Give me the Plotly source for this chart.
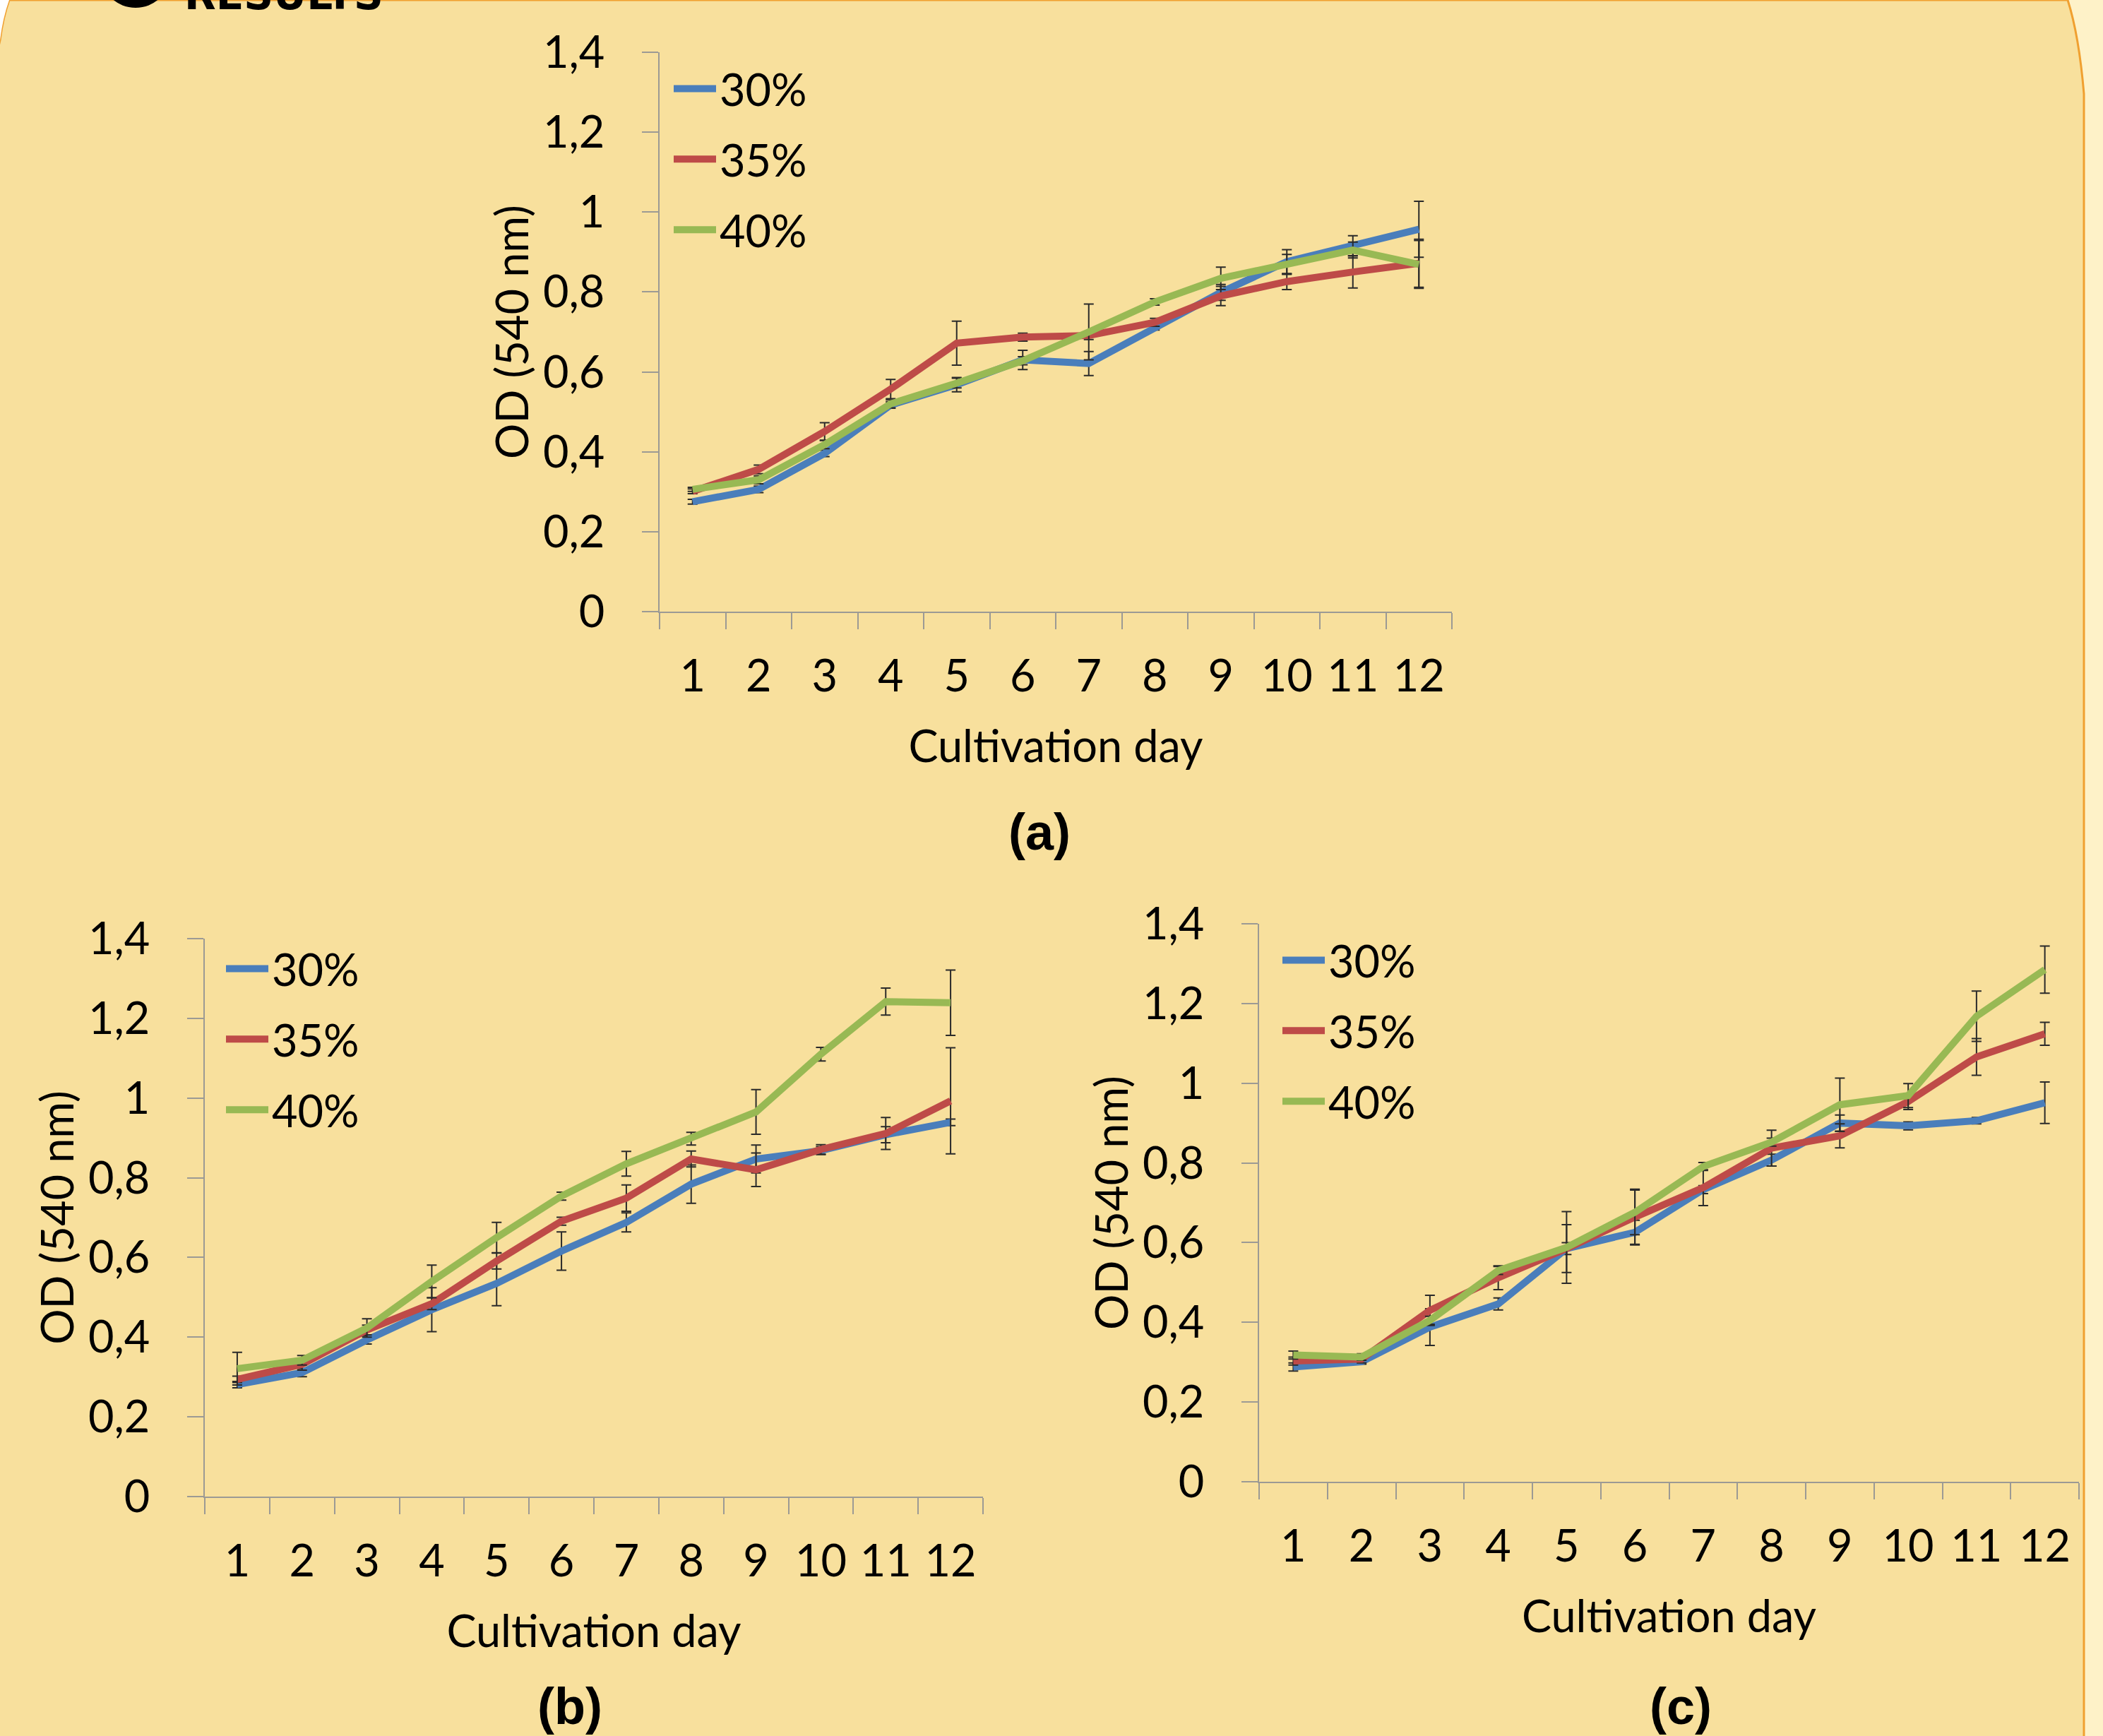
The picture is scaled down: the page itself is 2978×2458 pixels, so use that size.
import plotly.graph_objects as go

W, H = 2978, 2458

days = [str(d) for d in range(1, 13)]
series_names = ["30%", "35%", "40%"]
series_colors = ["#4A7EBB", "#BE4B48", "#98B954"]
y_ticks = [0, 0.2, 0.4, 0.6, 0.8, 1.0, 1.2, 1.4]
y_tick_labels = ["0", "0,2", "0,4", "0,6", "0,8", "1", "1,2", "1,4"]

# Panel (a)
a_30 = [0.275, 0.306, 0.396, 0.517, 0.568, 0.630, 0.621, 0.711, 0.799, 0.876, 0.916, 0.957]
a_35 = [0.301, 0.356, 0.451, 0.557, 0.672, 0.687, 0.691, 0.724, 0.790, 0.826, 0.850, 0.872]
a_40 = [0.306, 0.330, 0.418, 0.520, 0.572, 0.628, 0.700, 0.775, 0.834, 0.869, 0.905, 0.869]
a_30_err = [0.006, 0.008, 0.008, 0.008, 0.018, 0.024, 0.030, 0.006, 0.020, 0.030, 0.025, 0.070]
a_35_err = [0.006, 0.011, 0.022, 0.024, 0.055, 0.010, 0.010, 0.010, 0.024, 0.020, 0.040, 0.060]
a_40_err = [0.005, 0.010, 0.010, 0.010, 0.012, 0.010, 0.070, 0.008, 0.028, 0.025, 0.020, 0.060]

# Panel (b)
b_30 = [0.281, 0.311, 0.393, 0.469, 0.535, 0.616, 0.688, 0.784, 0.847, 0.868, 0.908, 0.939]
b_35 = [0.294, 0.332, 0.418, 0.484, 0.591, 0.691, 0.749, 0.847, 0.820, 0.871, 0.911, 0.993]
b_40 = [0.321, 0.342, 0.423, 0.540, 0.650, 0.754, 0.835, 0.898, 0.965, 1.110, 1.242, 1.239]
b_30_err = [0.008, 0.010, 0.010, 0.055, 0.056, 0.048, 0.024, 0.048, 0.035, 0.010, 0.020, 0.008]
b_35_err = [0.008, 0.015, 0.012, 0.015, 0.020, 0.010, 0.033, 0.020, 0.042, 0.012, 0.040, 0.133]
b_40_err = [0.041, 0.012, 0.023, 0.041, 0.038, 0.010, 0.031, 0.016, 0.056, 0.017, 0.034, 0.082]

# Panel (c)
c_30 = [0.288, 0.301, 0.388, 0.446, 0.585, 0.626, 0.733, 0.807, 0.900, 0.893, 0.906, 0.951]
c_35 = [0.303, 0.308, 0.430, 0.512, 0.585, 0.664, 0.738, 0.837, 0.868, 0.954, 1.066, 1.124]
c_40 = [0.318, 0.313, 0.405, 0.530, 0.588, 0.676, 0.791, 0.852, 0.946, 0.969, 1.168, 1.285]
c_30_err = [0.010, 0.006, 0.046, 0.015, 0.015, 0.030, 0.010, 0.015, 0.020, 0.010, 0.008, 0.052]
c_35_err = [0.010, 0.010, 0.038, 0.030, 0.060, 0.070, 0.045, 0.045, 0.030, 0.020, 0.046, 0.029]
c_40_err = [0.010, 0.008, 0.010, 0.010, 0.090, 0.056, 0.010, 0.010, 0.067, 0.030, 0.063, 0.059]

x_title = "Cultivation day"
y_title = "OD (540 nm)"
panel_labels = ["(a)", "(b)", "(c)"]

PANEL_BG = "#F8E09D"
OUTER_BG = "#FEF2C8"
FONT = "Lato"
FS = 63


def px(x):
    return x / W


def py(y):
    return 1 - y / H


# pixel geometry of each plot: (x_left, x_right, y_zero, y_top)
geoms = [
    (934, 2056, 866, 74),
    (290, 1392, 2119, 1329),
    (1783, 2944, 2098, 1308),
]
legend_pos = [(949, 78), (315, 1324), (1811, 1312)]
label_pos = [(1472, 1178), (807, 2416), (2380, 2416)]

panels = [
    ([a_30, a_35, a_40], [a_30_err, a_35_err, a_40_err]),
    ([b_30, b_35, b_40], [b_30_err, b_35_err, b_40_err]),
    ([c_30, c_35, c_40], [c_30_err, c_35_err, c_40_err]),
]

fig = go.Figure()
axis_line = "#9C9A94"

for i, (vals, errs) in enumerate(panels):
    n = "" if i == 0 else str(i + 1)
    leg = "legend" if i == 0 else "legend" + str(i + 1)
    for s in range(3):
        fig.add_trace(go.Scatter(
            x=days, y=vals[s], name=series_names[s], mode="lines",
            line=dict(color=series_colors[s], width=10),
            error_y=dict(type="data", array=errs[s], visible=True,
                         color="#2a2a2a", thickness=2, width=7),
            xaxis="x" + n, yaxis="y" + n, legend=leg,
            legendgroup=f"g{i}{s}", showlegend=True,
        ))
    xl, xr, y0, yt = geoms[i]
    fig.layout["xaxis" + n] = dict(
        domain=[px(xl), px(xr)], anchor="y" + n, type="category",
        tickson="boundaries", ticks="outside", ticklen=23, tickwidth=2,
        tickcolor=axis_line, showline=True, linecolor=axis_line, linewidth=2,
        showgrid=False, zeroline=False, tickfont=dict(family=FONT, size=FS, color="black"),
        ticklabelstandoff=35, automargin=False,
        title=dict(text=x_title, font=dict(family=FONT, size=FS, color="black"), standoff=44),
        range=[-0.5, 11.5],
    )
    fig.layout["yaxis" + n] = dict(
        domain=[py(y0), py(yt)], anchor="x" + n, range=[0, 1.4],
        tickvals=y_ticks, ticktext=y_tick_labels, ticks="outside", ticklen=23,
        tickwidth=2, tickcolor=axis_line, showline=True, linecolor=axis_line,
        linewidth=2, showgrid=False, zeroline=False, automargin=False,
        tickfont=dict(family=FONT, size=FS, color="black"), ticklabelstandoff=40,
        title=dict(text=y_title, font=dict(family=FONT, size=FS, color="black"), standoff=0),
    )
    lx, ly = legend_pos[i]
    fig.layout[leg] = dict(
        x=px(lx), y=py(ly), xanchor="left", yanchor="top",
        bgcolor="rgba(0,0,0,0)", font=dict(family=FONT, size=FS, color="black"),
        itemwidth=60, tracegroupgap=15, traceorder="grouped",
    )

annotations = []
for i, lab in enumerate(panel_labels):
    x, y = label_pos[i]
    annotations.append(dict(
        text="<b>" + lab + "</b>", x=px(x), y=py(y), xref="paper", yref="paper",
        showarrow=False, xanchor="center", yanchor="middle",
        font=dict(family="Liberation Sans", size=72, color="black"),
    ))
# section header, cut off at the top edge of the page as in the original
annotations.append(dict(
    text="<b>RESULTS</b>", x=px(259), y=py(29), xref="paper", yref="paper",
    showarrow=False, xanchor="left", yanchor="bottom",
    font=dict(family="DejaVu Sans", size=58, color="black"),
))

shapes = []
# page panel with rounded top corners
panel_path = (
    f"M {px(13)},{py(0)} Q {px(4)},{py(25)} {px(0)},{py(57)} "
    f"Q {px(-4)},{py(75)} {px(-12)},{py(95)} "
    f"L {px(-12)},{py(H + 20)} L {px(2951)},{py(H + 20)} L {px(2951)},{py(133)} "
    f"Q {px(2944)},{py(50)} {px(2928)},{py(0)} Z"
)
shapes.append(dict(type="path", path=panel_path, xref="paper", yref="paper",
                   fillcolor=PANEL_BG, line=dict(color="#F0A030", width=3), layer="below"))
white_corner = f"M {px(0)},{py(0)} L {px(13)},{py(0)} Q {px(4)},{py(25)} {px(0)},{py(57)} Z"
shapes.append(dict(type="path", path=white_corner, xref="paper", yref="paper",
                   fillcolor="white", line=dict(width=0), layer="below"))
shapes.append(dict(type="circle", xref="paper", yref="paper",
                   x0=px(142), x1=px(242), y0=py(11), y1=py(-89),
                   fillcolor="black", line=dict(width=0), layer="above"))

fig.update_layout(
    width=W, height=H, margin=dict(l=0, r=0, t=0, b=0, autoexpand=False),
    paper_bgcolor=OUTER_BG, plot_bgcolor="rgba(0,0,0,0)",
    annotations=annotations, shapes=shapes,
    font=dict(family=FONT, size=FS, color="black"),
)

fig.write_html(
    "out.html",
    config={"displayModeBar": False},
    post_script="document.body.style.margin='0';document.body.style.overflow='hidden';",
)
